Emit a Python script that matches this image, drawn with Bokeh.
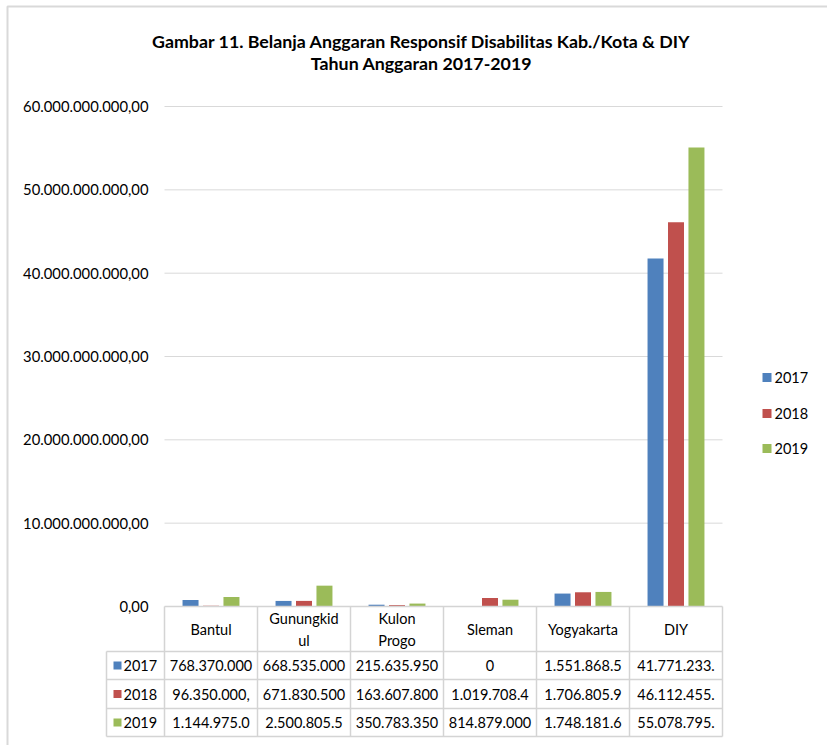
from bokeh.plotting import figure
from bokeh.models import Range1d
from bokeh.core.properties import value
from bokeh.embed import file_html
from bokeh.resources import INLINE

# ---------------- data ----------------
categories = ["Bantul", "Gunungkidul", "Kulon Progo", "Sleman", "Yogyakarta", "DIY"]
header_labels = ["Bantul", "Gunungkid\nul", "Kulon\nProgo", "Sleman", "Yogyakarta", "DIY"]
years = ["2017", "2018", "2019"]
v2017 = [768370000, 668535000, 215635950, 0, 1551868500, 41771233000]
v2018 = [96350000, 671830500, 163607800, 1019708400, 1706805900, 46112455000]
v2019 = [1144975000, 2500805500, 350783350, 814879000, 1748181600, 55078795000]
series = [v2017, v2018, v2019]
colors = ["#4F81BD", "#C0504D", "#9BBB59"]
y_ticks = [0, 10e9, 20e9, 30e9, 40e9, 50e9, 60e9]
title_lines = ["Gambar 11. Belanja Anggaran Responsif Disabilitas Kab./Kota & DIY",
               "Tahun Anggaran 2017-2019"]


def fmt_id(v):
    s = f"{v:,.2f}"
    return s.replace(",", "X").replace(".", ",").replace("X", ".")


def fmt_cell(v):
    if v == 0:
        return "0"
    return fmt_id(v)[:11]


# ---------------- layout (pixels) ----------------
W, H = 827, 745
X0, COLW = 164, 93          # left edge of plot area, width of a category
Y0 = 606                    # pixel row of value 0
PXU = 83.33 / 10e9          # pixels per unit value
FONT = value("Lato")
TXT = "#000000"
GRID = "#d9d9d9"
FS = "14.5px"

p = figure(width=W, height=H,
           x_range=Range1d(-X0 / COLW, (W - X0) / COLW),
           y_range=Range1d(-(H - Y0) / PXU, Y0 / PXU),
           output_backend="svg", toolbar_location=None,
           x_axis_location=None, y_axis_location=None,
           min_border=0, outline_line_color=None,
           background_fill_color="white", border_fill_color="white")
p.xgrid.grid_line_color = None
p.ygrid.grid_line_color = None
p.extra_x_ranges = {"px": Range1d(0, W)}
p.extra_y_ranges = {"px": Range1d(H, 0)}

# outer chart border
p.quad(left=[7], right=[W + 5], top=[6], bottom=[H + 5], x_range_name="px", y_range_name="px",
       fill_color=None, line_color=GRID, line_width=2)

# gridlines
n = len(categories)
p.segment(x0=[0] * 6, x1=[n] * 6, y0=y_ticks[1:], y1=y_ticks[1:], line_color=GRID, line_width=1)

# y tick labels
p.text(x=[148] * len(y_ticks), y=y_ticks, text=[fmt_id(t) for t in y_ticks], x_range_name="px",
       text_align="right", text_baseline="middle", text_font=FONT, text_font_size="14.8px",
       text_color=TXT)

# bars
offsets = [-0.22, 0.0, 0.22]
for vals, col, off in zip(series, colors, offsets):
    p.vbar(x=[i + 0.5 + off for i in range(n)], top=vals, bottom=0, width=0.172,
           fill_color=col, line_color=None)

# title
p.text(x=[421, 421], y=[40, 62], text=title_lines, x_range_name="px", y_range_name="px",
       text_align="center", text_baseline="middle", text_font=FONT, text_font_style="bold",
       text_font_size="17.8px", text_color=TXT)

# right legend
leg_y = [377, 413, 448]
p.rect(x=[766.5] * 3, y=leg_y, width=9, height=9, x_range_name="px", y_range_name="px",
       fill_color=colors, line_color=None)
p.text(x=[774] * 3, y=leg_y, text=years, x_range_name="px", y_range_name="px",
       text_align="left", text_baseline="middle", text_font=FONT, text_font_size=FS,
       text_color=TXT)

# data table
row_lines = [651, 679, 708, 736]
row_centers = [665, 693.5, 722]
TL = "#d4d4d4"
xr = X0 + COLW * n
p.segment(x0=[X0 + COLW * i for i in range(n + 1)], x1=[X0 + COLW * i for i in range(n + 1)],
          y0=[Y0] * (n + 1), y1=[row_lines[-1]] * (n + 1), x_range_name="px", y_range_name="px",
          line_color=TL, line_width=1.5)
p.segment(x0=[106], x1=[106], y0=[row_lines[0]], y1=[row_lines[-1]], x_range_name="px",
          y_range_name="px", line_color=TL, line_width=1.5)
p.segment(x0=[X0] + [106] * 4, x1=[xr] * 5, y0=[Y0] + row_lines, y1=[Y0] + row_lines,
          x_range_name="px", y_range_name="px", line_color=TL, line_width=1.5)

p.text(x=[i + 0.5 for i in range(n)], y=[629] * n, text=header_labels, y_range_name="px",
       text_align="center", text_baseline="middle", text_font=FONT, text_font_size=FS,
       text_color=TXT, text_line_height=1.3)
for vals, yc in zip(series, row_centers):
    p.text(x=[i + 0.5 for i in range(n)], y=[yc] * n, text=[fmt_cell(v) for v in vals],
           y_range_name="px", text_align="center", text_baseline="middle", text_font=FONT,
           text_font_size=FS, text_color=TXT)
p.rect(x=[117] * 3, y=row_centers, width=8, height=8, x_range_name="px", y_range_name="px",
       fill_color=colors, line_color=None)
p.text(x=[123] * 3, y=row_centers, text=years, x_range_name="px", y_range_name="px",
       text_align="left", text_baseline="middle", text_font=FONT, text_font_size=FS,
       text_color=TXT)

open("out.html", "w").write(file_html(p, INLINE))
